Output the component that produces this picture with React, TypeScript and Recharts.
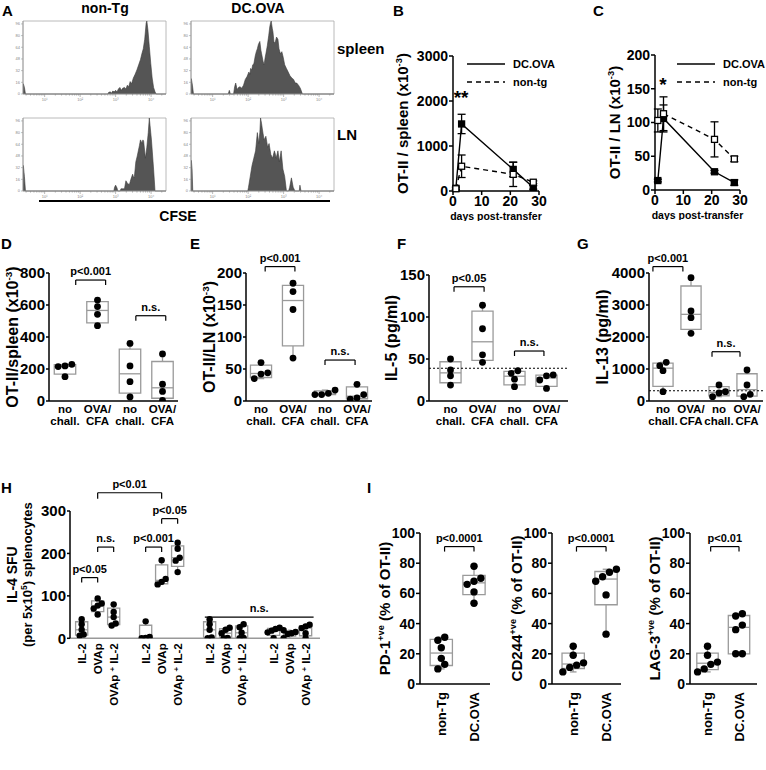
import React from "react";
import {
  AreaChart,
  Area,
  LineChart,
  Line,
  ScatterChart,
  Scatter,
  XAxis,
  YAxis,
  ReferenceArea,
  ReferenceLine,
  ReferenceDot,
  ErrorBar,
  Legend,
} from "recharts";

const FONT = "'Liberation Sans', Arial, Helvetica, sans-serif";

// ---------- A: CFSE histograms (x = log decade, y = % of max)
const cfseSpleenNonTg: [number, number][] = [
  [0.39, 0], [0.4, 14], [0.43, 9], [0.46, 0], [2.78, 0], [2.8, 2], [2.85, 3], [2.88, 1], [2.92, 4],
  [2.96, 3], [3.0, 5], [3.04, 3], [3.08, 7], [3.12, 9], [3.16, 5], [3.2, 8], [3.25, 9], [3.29, 7],
  [3.33, 12], [3.37, 10], [3.41, 17], [3.45, 14], [3.5, 22], [3.55, 27], [3.6, 33], [3.65, 40],
  [3.7, 47], [3.74, 55], [3.78, 62], [3.82, 75], [3.86, 97], [3.88, 100], [3.91, 88], [3.95, 65],
  [3.99, 42], [4.03, 22], [4.07, 9], [4.11, 3], [4.14, 0], [4.42, 0],
];
const cfseSpleenDcova: [number, number][] = [
  [0.39, 0], [0.4, 21], [0.43, 12], [0.46, 0], [1.44, 0], [1.47, 5], [1.5, 0], [1.59, 0], [1.62, 10],
  [1.65, 15], [1.69, 6], [1.73, 9], [1.77, 10], [1.82, 8], [1.87, 12], [1.92, 20], [1.97, 24],
  [2.02, 30], [2.05, 27], [2.07, 35], [2.1, 33], [2.13, 40], [2.16, 41], [2.2, 52], [2.23, 58],
  [2.26, 62], [2.29, 68], [2.33, 72], [2.36, 60], [2.38, 55], [2.42, 45], [2.45, 40], [2.48, 50],
  [2.5, 55], [2.54, 66], [2.58, 80], [2.61, 92], [2.63, 97], [2.65, 100], [2.68, 90], [2.7, 85],
  [2.73, 70], [2.77, 72], [2.8, 78], [2.84, 75], [2.87, 62], [2.91, 55], [2.95, 58], [2.99, 50],
  [3.03, 40], [3.08, 35], [3.13, 30], [3.18, 25], [3.23, 22], [3.28, 20], [3.33, 15], [3.37, 15],
  [3.42, 12], [3.47, 8], [3.5, 4], [3.53, 0], [4.42, 0],
];
const cfseLnNonTg: [number, number][] = [
  [0.39, 0], [0.4, 35], [0.43, 20], [0.46, 0], [2.95, 0], [2.97, 5], [3.0, 8], [3.04, 4], [3.06, 0],
  [3.13, 0], [3.15, 3], [3.2, 3], [3.25, 3], [3.29, 14], [3.34, 10], [3.39, 9], [3.43, 16],
  [3.48, 23], [3.51, 18], [3.53, 20], [3.57, 40], [3.61, 48], [3.64, 55], [3.67, 62], [3.7, 70],
  [3.72, 68], [3.74, 65], [3.77, 70], [3.79, 68], [3.84, 45], [3.88, 60], [3.92, 80], [3.95, 100],
  [3.98, 85], [4.01, 70], [4.07, 30], [4.11, 0], [4.42, 0],
];
const cfseLnDcova: [number, number][] = [
  [0.39, 0], [0.4, 42], [0.42, 30], [0.44, 0], [1.99, 0], [2.01, 5], [2.06, 20], [2.11, 35],
  [2.16, 45], [2.21, 55], [2.26, 80], [2.3, 65], [2.33, 80], [2.35, 100], [2.38, 92], [2.4, 85],
  [2.45, 70], [2.5, 75], [2.55, 60], [2.59, 65], [2.64, 50], [2.69, 45], [2.74, 55], [2.77, 50],
  [2.79, 45], [2.84, 55], [2.88, 40], [2.93, 55], [2.98, 30], [3.03, 20], [3.08, 0], [3.14, 0],
  [3.17, 5], [3.22, 18], [3.27, 5], [3.32, 0], [3.44, 0], [3.46, 8], [3.49, 0], [4.42, 0],
];

// ---------- B, C: kinetics
const days = [1, 3, 21, 28];
const spleenDcova = [60, 1490, 480, 80];
const spleenDcovaSem = [30, 215, 160, 40];
const spleenNonTg = [50, 550, 370, 195];
const spleenNonTgSem = [20, 250, 270, 30];
const lnDcova = [14, 106, 27, 11];
const lnDcovaSem = [2, 20, 2, 4];
const lnNonTg = [103, 113, 75, 46];
const lnNonTgSem = [17, 25, 26, 4];
const kinSeries = [
  { name: "DC.OVA", dash: undefined as string | undefined, filled: true },
  { name: "non-tg", dash: "5 4", filled: false },
];

// ---------- D-G: challenge groups
const challenge = ["no\nchall.", "OVA/\nCFA", "no\nchall.", "OVA/\nCFA"];
const mouse = ["non-Tg", "DC.OVA"];
const otiiSpleen = [[229, 215, 219, 152], [631, 590, 542, 471], [360, 219, 121, 25], [294, 105, 60, 3]];
const otiiLn = [[60, 44, 42, 35], [184, 171, 143, 67], [17, 12, 10, 10], [26, 10, 5, 3]];
const il5 = [[50, 37, 30, 19], [114, 86, 55, 46], [36, 33, 26, 17], [31, 30, 25, 15]];
const il13 = [[1208, 1104, 948, 292], [3854, 2812, 2604, 2115], [500, 292, 250, 135], [969, 500, 208, 135]];

// ---------- H: IL-4 ELISpot
const il4Stim = ["IL-2", "OVAp", "OVAp + IL-2"];
const il4Pos = [1, 2, 3, 5, 6, 7, 9, 10, 11, 13, 14, 15];
const il4Challenge = ["no\nchall.", "OVA/CFA", "no\nchall.", "OVA/CFA"];
const il4Mouse = ["non-Tg", "DC-OVA"];
const il4Sfu = [
  [45, 33, 20, 9, 6], [94, 82, 77, 70, 56], [80, 62, 50, 35, 30],
  [40, 3, 1, 0], [184, 140, 133, 127], [225, 211, 190, 183, 156],
  [45, 33, 20, 2, 0], [25, 20, 12, 1, 0], [33, 26, 13, 1, 0],
  [25, 22, 18, 14, 0], [19, 15, 12, 10, 0], [32, 28, 24, 12, 0],
];

// ---------- I: exhaustion markers
const exhaustGroups = ["non-Tg", "DC.OVA"];
const pd1 = [[31, 29, 24, 17, 13, 10], [78, 70, 68, 66, 61, 53.5]];
const cd244 = [[25, 19, 14, 12.5, 11, 8], [76, 74, 71, 68, 59, 33]];
const lag3 = [[25, 19, 14.5, 13, 10, 8], [46.5, 45, 39, 36, 20, 20]];

// ---------- helpers
function stats(v: number[]) {
  const s = [...v].sort((a, b) => a - b);
  const n = s.length;
  const q = (p: number) => {
    const pos = p * (n + 1) - 1;
    const lo = Math.max(0, Math.min(n - 1, Math.floor(pos)));
    const hi = Math.min(n - 1, lo + 1);
    const f = Math.max(0, Math.min(1, pos - lo));
    return s[lo] + (s[hi] - s[lo]) * f;
  };
  return { min: s[0], max: s[n - 1], q1: q(0.25), med: q(0.5), q3: q(0.75) };
}

// spread points that sit at nearly the same value over up to 4 columns
function spread(vals: number[], pos: number, tol: number, step: number) {
  const idx = vals.map((_, i) => i).sort((a, b) => vals[a] - vals[b]);
  const out = vals.map((v) => ({ x: pos, y: v }));
  let i = 0;
  while (i < idx.length) {
    let j = i;
    while (j + 1 < idx.length && vals[idx[j + 1]] - vals[idx[j]] < tol) j++;
    const k = j - i + 1;
    const cols = Math.min(k, 4);
    for (let m = 0; m < k; m++) out[idx[i + m]].x = pos + ((m % cols) - (cols - 1) / 2) * step;
    i = j + 1;
  }
  return out;
}

const withSup = (pre: string, s: string, post: string, size: number) => (
  <>
    {pre}
    <tspan dy={-size * 0.4} fontSize={size * 0.62}>{s}</tspan>
    <tspan dy={size * 0.4}>{post}</tspan>
  </>
);

function AxisTitle({ ax, ay, rot = true, size = 15, node }: any) {
  return (
    <text
      x={ax}
      y={ay}
      transform={rot ? `rotate(-90 ${ax} ${ay})` : undefined}
      textAnchor="middle"
      fontSize={size}
      fontWeight={700}
      fill="#000"
      fontFamily={FONT}
    >
      {node(ax)}
    </text>
  );
}

// ---------- A
const supDigits = ["⁰", "¹", "²", "³", "⁴"];
const histTicks: number[] = [];
for (let d = 0; d <= 4; d++)
  for (let k = 1; k <= 9; k++) {
    const v = d + Math.log10(k);
    if (v >= 0.39 && v <= 4.42) histTicks.push(v);
  }

const histXTick = (p: any) => {
  const v = p.payload.value;
  const major = Math.abs(v - Math.round(v)) < 1e-6;
  return (
    <g>
      <line x1={p.x} x2={p.x} y1={p.y} y2={p.y + (major ? 3 : 1.6)} stroke="#888" strokeWidth={0.6} />
      {major && (
        <text x={p.x} y={p.y + 7} fontSize={4} textAnchor="middle" fill="#888">
          10{supDigits[Math.round(v)]}
        </text>
      )}
    </g>
  );
};

function Histo({ data, x, y }: { data: [number, number][]; x: number; y: number }) {
  const W = 143, H = 73, L = 10, B = 10;
  const rows = data.map(([d, v]) => ({ d, v }));
  return (
    <div style={{ position: "absolute", left: x - L, top: y - 1 }}>
      <AreaChart width={W + L + 2} height={H + B + 1} data={rows} margin={{ top: 1, right: 2, left: 0, bottom: 0 }}>
        <XAxis
          dataKey="d"
          type="number"
          domain={[0.39, 4.42]}
          allowDataOverflow
          ticks={histTicks}
          interval={0}
          height={B}
          tickSize={0}
          tickMargin={0}
          tickLine={false}
          axisLine={{ stroke: "#999", strokeWidth: 0.8 }}
          tick={histXTick}
        />
        <YAxis
          type="number"
          domain={[0, 100]}
          ticks={[0, 16, 32, 48, 64, 80, 96]}
          interval={0}
          width={L}
          tickSize={2}
          tickMargin={1}
          axisLine={{ stroke: "#999", strokeWidth: 0.8 }}
          tickLine={{ stroke: "#999", strokeWidth: 0.6 }}
          tick={{ fontSize: 4, fill: "#888" }}
        />
        <ReferenceArea x1={0.39} x2={4.42} y1={0} y2={100} fill="none" stroke="#a8a8a8" strokeWidth={0.8} ifOverflow="visible" />
        <Area dataKey="v" type="linear" stroke="#3c3c3c" strokeWidth={0.6} fill="#555" fillOpacity={1} isAnimationActive={false} />
      </AreaChart>
    </div>
  );
}

// ---------- B, C
const squareDot = (filled: boolean) => (p: any) => (
  <rect
    key={`sq-${filled}-${p.index}`}
    x={p.cx - 3}
    y={p.cy - 3}
    width={6}
    height={6}
    fill={filled ? "#000" : "#fff"}
    stroke="#000"
    strokeWidth={1.3}
  />
);

const KinLegend = (p: any) => (
  <div style={{ fontFamily: FONT }}>
    {(p.payload || []).map((e: any) => {
      const s = kinSeries.find((k) => k.name === e.value);
      return (
        <div key={e.value} style={{ display: "flex", alignItems: "center", height: 18 }}>
          <svg width={38} height={4} style={{ display: "block" }}>
            <line x1={0} x2={38} y1={2} y2={2} stroke="#000" strokeWidth={1.6} strokeDasharray={s?.dash} />
          </svg>
          <span style={{ marginLeft: 8, fontSize: 11, fontWeight: 700, color: "#000" }}>{e.value}</span>
        </div>
      );
    })}
  </div>
);

function Kinetics({ c }: { c: any }) {
  const series = [
    { ...kinSeries[0], rows: days.map((d, i) => ({ day: d, v: c.dc[i], e: c.dcSem[i] })) },
    { ...kinSeries[1], rows: days.map((d, i) => ({ day: d, v: c.non[i], e: c.nonSem[i] })) },
  ];
  const ax = { stroke: "#000", strokeWidth: 1.5 };
  return (
    <div style={{ position: "absolute", left: c.x - c.l, top: c.y - c.t }}>
      <LineChart width={c.w + c.l + c.r} height={c.h + c.t + c.b} margin={{ top: c.t, right: c.r, left: 0, bottom: 0 }}>
        <XAxis
          type="number"
          dataKey="day"
          domain={[0, 30]}
          ticks={[0, 10, 20, 30]}
          interval={0}
          height={c.b}
          tickSize={4}
          tickMargin={1}
          axisLine={ax}
          tickLine={ax}
          tick={{ fill: "#000", fontSize: 14, fontWeight: 700 }}
          label={<AxisTitle ax={c.l + c.w / 2} ay={c.t + c.h + 29} rot={false} size={10.5} node={() => "days post-transfer"} />}
        />
        <YAxis
          type="number"
          domain={[0, c.yMax]}
          ticks={c.yTicks}
          interval={0}
          width={c.l}
          tickSize={4}
          tickMargin={1}
          axisLine={ax}
          tickLine={ax}
          tick={{ fill: "#000", fontSize: 14, fontWeight: 700 }}
          label={<AxisTitle ax={c.l - c.titleDist + 5} ay={c.t + c.h / 2} size={15} node={() => withSup(c.title, "-3", ")", 15)} />}
        />
        <Legend
          layout="horizontal"
          verticalAlign="middle"
          align="center"
          wrapperStyle={{ position: "absolute", left: c.legLeft, top: c.legTop, width: 110 }}
          content={(p: any) => <KinLegend payload={p.payload} />}
        />
        <ReferenceDot
          x={c.starX}
          y={c.starY}
          r={0}
          ifOverflow="visible"
          label={{ value: c.star, position: "center", fontSize: 19, fontWeight: 700, fill: "#000" }}
        />
        {series.map((s) => (
          <Line
            key={s.name}
            data={s.rows}
            dataKey="v"
            name={s.name}
            stroke="#000"
            strokeWidth={1.4}
            strokeDasharray={s.dash}
            dot={squareDot(s.filled)}
            isAnimationActive={false}
          >
            <ErrorBar dataKey="e" direction="y" width={4} stroke="#000" strokeWidth={1.3} />
          </Line>
        ))}
      </LineChart>
    </div>
  );
}

// ---------- box plot panels
function boxShapes(v: number[], c: number, hw: number, key: string) {
  const s = stats(v);
  const g = { stroke: "#9a9a9a", strokeWidth: 1.3, ifOverflow: "visible" as const };
  return [
    <ReferenceLine key={key + "w1"} segment={[{ x: c, y: s.q3 }, { x: c, y: s.max }]} {...g} />,
    <ReferenceLine key={key + "w2"} segment={[{ x: c, y: s.min }, { x: c, y: s.q1 }]} {...g} />,
    <ReferenceLine key={key + "c1"} segment={[{ x: c - hw * 0.3, y: s.max }, { x: c + hw * 0.3, y: s.max }]} {...g} />,
    <ReferenceLine key={key + "c2"} segment={[{ x: c - hw * 0.3, y: s.min }, { x: c + hw * 0.3, y: s.min }]} {...g} />,
    <ReferenceArea
      key={key + "bx"}
      x1={c - hw}
      x2={c + hw}
      y1={s.q1}
      y2={s.q3}
      fill="#fff"
      fillOpacity={1}
      stroke="#9a9a9a"
      strokeWidth={1.3}
      ifOverflow="visible"
    />,
    <ReferenceLine key={key + "md"} segment={[{ x: c - hw, y: s.med }, { x: c + hw, y: s.med }]} {...g} />,
  ];
}

function bracket(br: any[], upp: number, key: string) {
  const [a, b, y, text, legPx = 5] = br;
  const leg = legPx * upp;
  const g = { stroke: "#000", strokeWidth: 1.2, ifOverflow: "visible" as const };
  const out = [
    <ReferenceLine
      key={key + "h"}
      segment={[{ x: a, y }, { x: b, y }]}
      {...g}
      label={{ value: text, position: "top", offset: 5, fill: "#000", fontSize: 11, fontWeight: 700 }}
    />,
  ];
  if (leg > 0) {
    out.push(<ReferenceLine key={key + "l"} segment={[{ x: a, y }, { x: a, y: y - leg }]} {...g} />);
    out.push(<ReferenceLine key={key + "r"} segment={[{ x: b, y }, { x: b, y: y - leg }]} {...g} />);
  }
  return out;
}

function BoxPanel({ c }: { c: any }) {
  const W = c.w + c.l + c.r;
  const H = c.h + c.t + c.b;
  const upp = c.yMax / c.h;
  const pts = c.vals.flatMap((v: number[], i: number) => spread(v, c.pos[i], c.yMax * 0.035, c.step));
  const ax = { stroke: "#000", strokeWidth: 1.5 };
  return (
    <div style={{ position: "absolute", left: c.x - c.l, top: c.y - c.t }}>
      <ScatterChart width={W} height={H} margin={{ top: c.t, right: c.r, left: 0, bottom: 0 }}>
        <XAxis
          type="number"
          dataKey="x"
          domain={c.dom}
          allowDataOverflow
          ticks={c.pos}
          interval={0}
          height={c.xHeight}
          tickSize={0}
          tickMargin={0}
          tickLine={false}
          axisLine={{ stroke: c.axisColor || "#000", strokeWidth: 1.5 }}
          tick={c.xTick}
        />
        {c.groupTicks && (
          <XAxis
            xAxisId="grp"
            type="number"
            domain={c.dom}
            allowDataOverflow
            ticks={c.groupTicks}
            interval={0}
            height={c.b - c.xHeight}
            tickSize={0}
            tickMargin={0}
            tickLine={false}
            axisLine={false}
            tick={c.groupTick}
          />
        )}
        <YAxis
          type="number"
          dataKey="y"
          domain={[0, c.yMax]}
          allowDataOverflow
          ticks={c.yTicks}
          interval={0}
          width={c.l}
          tickSize={c.tickSize || 3}
          tickMargin={1}
          axisLine={ax}
          tickLine={ax}
          tick={{ fill: "#000", fontSize: c.tickFont, fontWeight: 700 }}
          label={<AxisTitle ax={c.l - c.titleDist + 5} ay={c.t + c.h / 2} size={c.titleSize} node={c.title} />}
        />
        {c.dotted !== undefined && <ReferenceLine y={c.dotted} stroke="#000" strokeDasharray="2 2" strokeWidth={1.2} />}
        {c.vals.map((v: number[], i: number) => boxShapes(v, c.pos[i], c.half, `b${i}`))}
        {c.brackets.map((br: any[], i: number) => bracket(br, upp, `k${i}`))}
        <Scatter
          data={pts}
          isAnimationActive={false}
          shape={(p: any) => <circle cx={p.cx} cy={p.cy} r={c.r0} fill="#000" />}
        />
      </ScatterChart>
    </div>
  );
}

const challTick = (p: any) => {
  const i = Math.round(p.payload.value) - 1;
  const [a, b] = challenge[i].split("\n");
  return (
    <text x={p.x} y={p.y} textAnchor="middle" fontSize={11.5} fontWeight={700} fill="#000">
      <tspan x={p.x} dy={12}>{a}</tspan>
      <tspan x={p.x} dy={12}>{b}</tspan>
    </text>
  );
};

const mouseTick = (half: number) => (p: any) => {
  const i = p.payload.value < 2.5 ? 0 : 1;
  return (
    <g>
      <line x1={p.x - half} x2={p.x + half} y1={p.y + 3} y2={p.y + 3} stroke="#000" strokeWidth={2} />
      <text x={p.x} y={p.y + 17} textAnchor="middle" fontSize={12} fontWeight={700} fill="#000">
        {mouse[i]}
      </text>
    </g>
  );
};

const stimTick = (p: any) => {
  const i = il4Pos.indexOf(Math.round(p.payload.value));
  const s = il4Stim[i % 3];
  const x = p.x + 4;
  const y = p.y + 5;
  const parts = s.split(" + ");
  return (
    <text x={x} y={y} transform={`rotate(-90 ${x} ${y})`} textAnchor="end" fontSize={11.5} fontWeight={700} fill="#000">
      {parts.length > 1 ? (
        <>
          {parts[0] + " "}
          <tspan dy={-3} fontSize={8}>+</tspan>
          <tspan dy={3}>{" " + parts[1]}</tspan>
        </>
      ) : (
        s
      )}
    </text>
  );
};

const il4Level1 = [2, 6, 10, 14];
const il4Level2 = [4, 12];
const il4GroupTick = (p: any) => {
  const v = Math.round(p.payload.value);
  const i1 = il4Level1.indexOf(v);
  if (i1 >= 0) {
    const lines = il4Challenge[i1].split("\n");
    return (
      <g>
        <line x1={p.x - 22} x2={p.x + 22} y1={p.y + 5} y2={p.y + 5} stroke="#000" strokeWidth={2} />
        <text textAnchor="middle" fontSize={11.5} fontWeight={700} fill="#000">
          {lines.map((s, k) => (
            <tspan key={k} x={p.x} y={p.y + (lines.length === 1 ? 20 : 14 + k * 14)}>
              {s}
            </tspan>
          ))}
        </text>
      </g>
    );
  }
  const i2 = il4Level2.indexOf(v);
  return (
    <g>
      <line x1={p.x - 57} x2={p.x + 57} y1={p.y + 37} y2={p.y + 37} stroke="#000" strokeWidth={2} />
      <text x={p.x} y={p.y + 54} textAnchor="middle" fontSize={11.5} fontWeight={700} fill="#000">
        {il4Mouse[i2]}
      </text>
    </g>
  );
};

const exhaustTick = (p: any) => {
  const x = p.x + 4.5;
  const y = p.y + 8;
  return (
    <text x={x} y={y} transform={`rotate(-90 ${x} ${y})`} textAnchor="end" fontSize={13} fontWeight={700} fill="#000">
      {exhaustGroups[Math.round(p.payload.value) - 1]}
    </text>
  );
};

// ---------- panel layouts
const kinB = {
  x: 453, y: 56, w: 86, h: 135, l: 62, t: 8, r: 27, b: 30, titleDist: 50,
  yMax: 3000, yTicks: [0, 1000, 2000, 3000],
  dc: spleenDcova, dcSem: spleenDcovaSem, non: spleenNonTg, nonSem: spleenNonTgSem,
  title: "OT-II / spleen (x10", star: "**", starX: 2.8, starY: 2090, legLeft: 76, legTop: 7,
};
const kinC = {
  x: 655, y: 55, w: 85, h: 135, l: 55, t: 8, r: 26, b: 30, titleDist: 40,
  yMax: 200, yTicks: [0, 50, 100, 150, 200],
  dc: lnDcova, dcSem: lnDcovaSem, non: lnNonTg, nonSem: lnNonTgSem,
  title: "OT-II / LN (x10", star: "*", starX: 2.8, starY: 156, legLeft: 77, legTop: 8,
};

const fourGroup = {
  t: 30, b: 55, xHeight: 28, pos: [1, 2, 3, 4], half: 0.33, step: 0.21, r0: 3.4,
  tickFont: 15, titleSize: 16, titleDist: 36, xTick: challTick, groupTicks: [1.5, 3.5],
};

const panelD = {
  ...fourGroup, x: 49, y: 273, w: 129, h: 128, l: 49, r: 3, dom: [0.508, 4.477],
  yMax: 800, yTicks: [0, 200, 400, 600, 800], vals: otiiSpleen, groupTick: mouseTick(31),
  brackets: [[1.33, 2.25, 756, "p<0.001"], [3.18, 4.1, 533, "n.s."]],
  title: () => withSup("OT-II/spleen (x10", "-3", ")", 16),
};
const panelE = {
  ...fourGroup, x: 246, y: 273, w: 126, h: 128, l: 60, r: 4, dom: [0.531, 4.469],
  yMax: 200, yTicks: [0, 50, 100, 150, 200], vals: otiiLn, groupTick: mouseTick(30),
  brackets: [[1.13, 2.06, 210, "p<0.001"], [3.0, 3.94, 64, "n.s."]],
  title: () => withSup("OT-II/LN (x10", "-3", ")", 16),
};
const panelF = {
  ...fourGroup, x: 429, y: 275, w: 139, h: 126, l: 50, r: 4, dom: [0.328, 4.672], titleDist: 37,
  yMax: 150, yTicks: [0, 50, 100, 150], vals: il5, groupTick: mouseTick(30), dotted: 39,
  brackets: [[1.11, 2.05, 136, "p<0.05"], [3.0, 3.92, 59.5, "n.s."]],
  title: () => "IL-5 (pg/ml)",
};
const panelG = {
  ...fourGroup, x: 649, y: 273, w: 114, h: 128, l: 55, r: 3, dom: [0.5, 4.571], titleDist: 46,
  yMax: 4000, yTicks: [0, 1000, 2000, 3000, 4000], vals: il13, groupTick: mouseTick(28), dotted: 320,
  half: 0.36, step: 0.23,
  brackets: [[0.64, 1.71, 4200, "p<0.001"], [2.75, 3.75, 1540, "n.s."]],
  title: () => "IL-13 (pg/ml)",
};
const panelH = {
  x: 70, y: 511, w: 250, h: 127.3, l: 70, t: 35, r: 6, b: 132, xHeight: 75,
  dom: [0.27, 15.9], yMax: 300, yTicks: [0, 100, 200, 300], pos: il4Pos, vals: il4Sfu,
  half: 0.38, step: 0.25, r0: 3.2, tickFont: 15, titleSize: 14, titleDist: 58, axisColor: "#999",
  xTick: stimTick, groupTicks: [2, 4, 6, 10, 12, 14], groupTick: il4GroupTick,
  brackets: [
    [1, 2, 143, "p<0.05"], [2, 3, 215, "n.s."], [5, 6, 215, "p<0.001"],
    [6, 7, 282, "p<0.05"], [2, 6, 343, "p<0.01", 6], [8.7, 15.5, 50, "n.s.", 0],
  ],
  title: (x: number) => (
    <>
      <tspan x={x}>IL-4 SFU</tspan>
      <tspan x={x} dy={15} fontSize={13}>(per 5x10</tspan>
      <tspan dy={-5} fontSize={8.5}>5</tspan>
      <tspan dy={5} fontSize={13}>) splenocytes</tspan>
    </>
  ),
};
const exhaust = {
  y: 533.3, h: 151, l: 45, t: 20, r: 6, b: 86, xHeight: 86, pos: [1, 2],
  yMax: 100, yTicks: [0, 20, 40, 60, 80, 100], half: 0.34, step: 0.21, r0: 3.7,
  tickFont: 14, tickSize: 4, titleSize: 15, titleDist: 35, xTick: exhaustTick,
};
const panelI1 = {
  ...exhaust, x: 420, w: 70, dom: [0.349, 2.489], vals: pd1,
  brackets: [[1.1, 2.0, 91, "p<0.0001"]],
  title: () => withSup("PD-1", "+ve", " (% of OT-II)", 15),
};
const panelI2 = {
  ...exhaust, x: 552, w: 69, dom: [0.355, 2.455], vals: cd244,
  brackets: [[1.1, 2.0, 91, "p<0.0001"]],
  title: () => withSup("CD244", "+ve", " (% of OT-II)", 15),
};
const panelI3 = {
  ...exhaust, x: 690, w: 67, dom: [0.444, 2.571], vals: lag3,
  brackets: [[1.1, 2.0, 91, "p<0.01"]],
  title: () => withSup("LAG-3", "+ve", " (% of OT-II)", 15),
};

const panelLetters: [string, number, number][] = [
  ["A", 2, 16], ["B", 393, 16], ["C", 593, 16], ["D", 1, 249], ["E", 190, 249],
  ["F", 397, 249], ["G", 577, 249], ["H", 1, 493], ["I", 367, 493],
];

export default function App() {
  return (
    <div
      style={{
        position: "absolute",
        left: 0,
        top: 0,
        width: 766,
        height: 770,
        background: "#fff",
        overflow: "hidden",
        fontFamily: FONT,
      }}
    >
      <Histo data={cfseSpleenNonTg} x={23} y={21} />
      <Histo data={cfseSpleenDcova} x={191} y={21} />
      <Histo data={cfseLnNonTg} x={23} y={118} />
      <Histo data={cfseLnDcova} x={191} y={118} />
      <Kinetics c={kinB} />
      <Kinetics c={kinC} />
      {[panelD, panelE, panelF, panelG, panelH, panelI1, panelI2, panelI3].map((c, i) => (
        <BoxPanel key={i} c={c} />
      ))}
      <svg
        width={766}
        height={770}
        style={{ position: "absolute", left: 0, top: 0, pointerEvents: "none" }}
        fontFamily={FONT}
        fontWeight={700}
      >
        {panelLetters.map(([t, x, y]) => (
          <text key={t} x={x} y={y} fontSize={15} fill="#000">
            {t}
          </text>
        ))}
        <text x={105} y={13} fontSize={14} textAnchor="middle">non-Tg</text>
        <text x={258} y={13} fontSize={14} textAnchor="middle">DC.OVA</text>
        <text x={337} y={54} fontSize={15}>spleen</text>
        <text x={337} y={140} fontSize={15}>LN</text>
        <line x1={39} x2={330} y1={201} y2={201} stroke="#000" strokeWidth={2} />
        <text x={178} y={221} fontSize={14} textAnchor="middle">CFSE</text>
      </svg>
    </div>
  );
}
